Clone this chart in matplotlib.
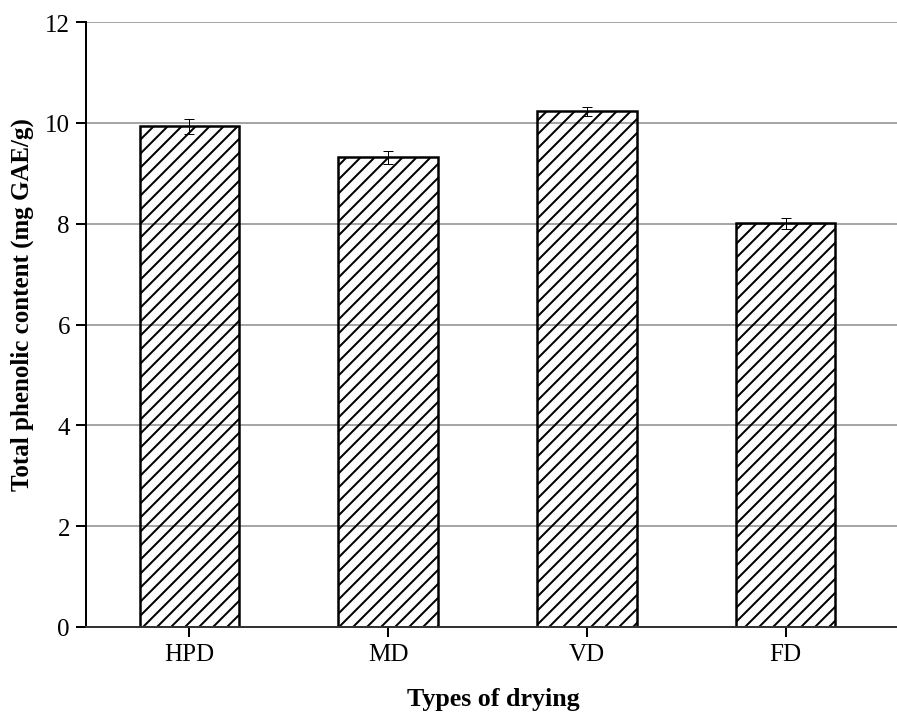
import matplotlib
matplotlib.use('Agg')
import matplotlib.pyplot as plt
import numpy as np

# data
drying_types = ['HPD', 'MD', 'VD', 'FD']
phenolic = [9.93, 9.32, 10.23, 8.01]
phenolic_err = [0.15, 0.13, 0.09, 0.11]
y_ticks = [0, 2, 4, 6, 8, 10, 12]

DPI = 84


def px(v):
    # pixel size -> points
    return v * 72.0 / DPI


plt.rcParams['font.family'] = ['Liberation Serif', 'DejaVu Serif']
plt.rcParams['hatch.linewidth'] = px(2.0)

fig = plt.figure(figsize=(897 / DPI, 713 / DPI), dpi=DPI)
ax = fig.add_axes([86 / 897, 1 - 628 / 713, 1 - 86 / 897, (628 - 23) / 713])

x = np.arange(len(drying_types))

# grid first, bars are see-through so the lines show through them
ax.set_axisbelow(True)
ax.yaxis.grid(True, color='#a6a6a6', linewidth=px(2))

# '//' gives about 14 px between hatch lines at this dpi, same as the original
ax.bar(x, phenolic, width=0.5, facecolor='none', edgecolor='black',
       linewidth=px(2.5), hatch='//')
ax.errorbar(x, phenolic, yerr=phenolic_err, fmt='none', ecolor='black',
            elinewidth=px(1), capsize=px(5), capthick=px(1))

ax.set_xlim(-0.52, 3.56)
ax.set_ylim(0, 12)
ax.set_yticks(y_ticks)
ax.set_xticks(x)
ax.set_xticklabels(drying_types)

ax.spines['top'].set_visible(False)
ax.spines['right'].set_visible(False)
ax.spines['left'].set_linewidth(px(2))
ax.spines['bottom'].set_linewidth(px(2))
ax.spines['bottom'].set_color('#333333')

ax.tick_params(axis='both', direction='out', length=px(10), width=px(2),
               labelsize=px(25), pad=px(6))

ax.set_xlabel('Types of drying', fontsize=px(26), fontweight='bold')
ax.set_ylabel('Total phenolic content (mg GAE/g)', fontsize=px(25),
              fontweight='bold')
ax.xaxis.set_label_coords(0.502, -0.099)
ax.yaxis.set_label_coords(-0.064, 0.534)

fig.savefig('out.png', dpi=DPI)
